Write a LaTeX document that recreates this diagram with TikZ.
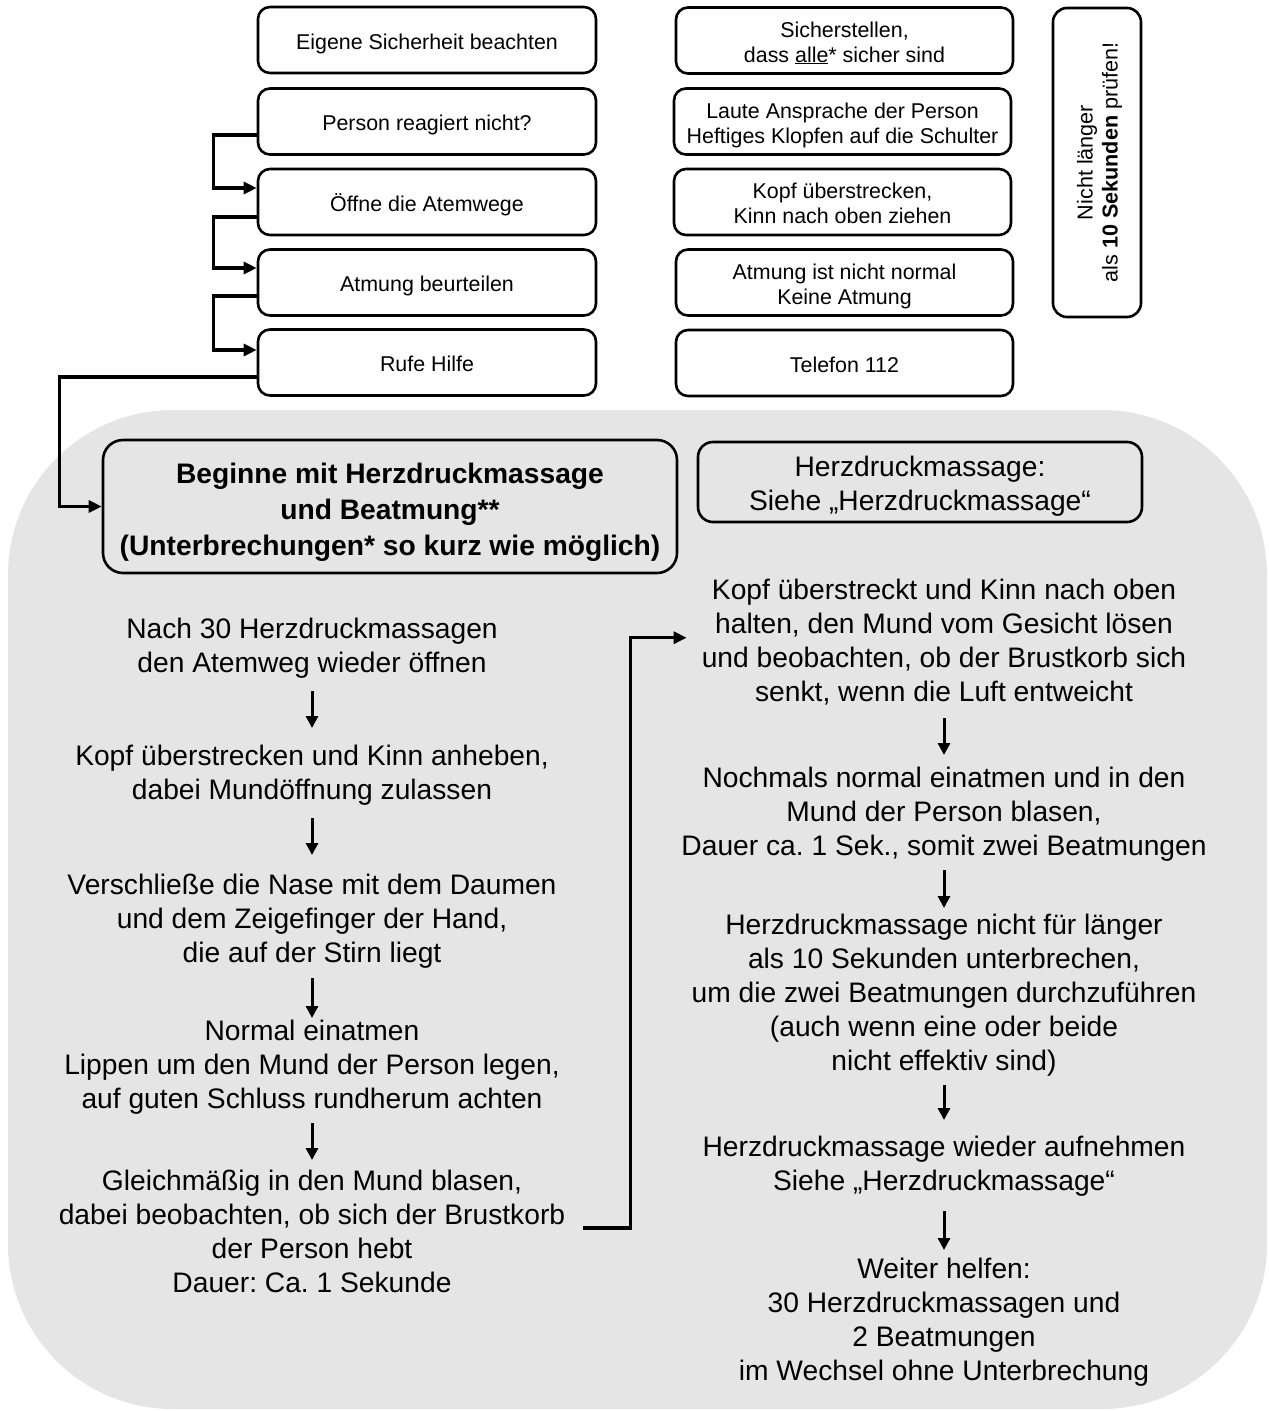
\documentclass[tikz,border=0pt]{standalone}
\usepackage{fontspec}
\setmainfont{Liberation Sans}
\usetikzlibrary{arrows.meta}
\definecolor{bggray}{RGB}{229,229,229}
\frenchspacing
\newcommand\myrule[1]{\rule{0pt}{#1pt}}
\begin{document}
\begin{tikzpicture}[x=1pt,y=-1pt,
  sbox/.style={draw, line width=2.6pt, rounded corners=12pt, fill=white,
    minimum width=338pt, minimum height=66pt, inner sep=0pt, align=center,
    font=\fontsize{21.4}{25}\selectfont,
    execute at end node={\rule[-5pt]{0pt}{5pt}}},
  rbox/.style={sbox, minimum width=337pt},
  bigtext/.style={align=center, inner sep=0pt, anchor=north,
    font=\fontsize{28.2}{34}\selectfont},
  conn/.style={line width=3.2pt, -{Triangle[length=13pt,width=12pt]}},
  darr/.style={line width=3pt, -{Triangle[length=12pt,width=12pt]}}
]
\useasboundingbox (0,0) rectangle (1269,1411);
\fill[bggray, rounded corners=165pt] (8,410) rectangle (1267,1409);

% top left column
\node[sbox] (p1) at (427,40)    {\myrule{23}Eigene Sicherheit beachten};
\node[sbox] (p2) at (427,121.5) {\myrule{23}Person reagiert nicht?};
\node[sbox] (p3) at (427,202)   {\myrule{23}Öffne die Atemwege};
\node[sbox] (p4) at (427,282.5) {\myrule{23}Atmung beurteilen};
\node[sbox] (p5) at (427,362.5) {\myrule{23}Rufe Hilfe};

% top right column
\node[rbox] (q1) at (844.5,40.5)  {\myrule{23}Sicherstellen,\\dass \underline{alle}* sicher sind};
\node[rbox] (q2) at (842.5,121.5) {\myrule{23}Laute Ansprache der Person\\Heftiges Klopfen auf die Schulter};
\node[rbox] (q3) at (842.5,202)   {\myrule{23}Kopf überstrecken,\\Kinn nach oben ziehen};
\node[rbox] (q4) at (844.5,282.5) {\myrule{23}Atmung ist nicht normal\\Keine Atmung};
\node[rbox] (q5) at (844.5,363)   {\myrule{23}Telefon 112};

\node[draw, line width=2.6pt, rounded corners=14pt, rotate=90,
  minimum width=309pt, minimum height=88pt, inner sep=0pt, align=center,
  font=\fontsize{21.6}{25}\selectfont,
  execute at end node={\rule[-5pt]{0pt}{5pt}}] (side) at (1097,162.5)
  {\myrule{21}Nicht länger\\als \textbf{10 Sekunden} prüfen!};

% lower boxes
\node[draw, line width=2.6pt, rounded corners=20pt,
  minimum width=574pt, minimum height=133pt, inner sep=0pt, align=center,
  font=\bfseries\fontsize{28.2}{36}\selectfont,
  execute at end node={\rule[-7pt]{0pt}{7pt}}] (bold) at (390,506.5)
  {\myrule{33}Beginne mit Herzdruckmassage\\und Beatmung**\\(Unterbrechungen* so kurz wie möglich)};
\node[draw, line width=2.6pt, rounded corners=15pt,
  minimum width=444pt, minimum height=80pt, inner sep=0pt, align=center,
  font=\fontsize{28.2}{34}\selectfont,
  execute at end node={\rule[-7pt]{0pt}{7pt}}] (herz) at (920,482)
  {\myrule{30}Herzdruckmassage:\\Siehe „Herzdruckmassage“};

% left column text
\node[bigtext] (L1) at (312,617.5) {Nach 30 Herzdruckmassagen\\den Atemweg wieder öffnen};
\node[bigtext] (L2) at (312,744.5) {Kopf überstrecken und Kinn anheben,\\dabei Mundöffnung zulassen};
\node[bigtext] (L3) at (312,873.5) {Verschließe die Nase mit dem Daumen\\und dem Zeigefinger der Hand,\\die auf der Stirn liegt};
\node[bigtext] (L4) at (312,1019.5) {Normal einatmen\\Lippen um den Mund der Person legen,\\auf guten Schluss rundherum achten};
\node[bigtext] (L5) at (312,1169.5) {Gleichmäßig in den Mund blasen,\\dabei beobachten, ob sich der Brustkorb\\der Person hebt\\Dauer: Ca. 1 Sekunde};

% right column text
\node[bigtext] (R1) at (944,578.5) {Kopf überstreckt und Kinn nach oben\\halten, den Mund vom Gesicht lösen\\und beobachten, ob der Brustkorb sich\\senkt, wenn die Luft entweicht};
\node[bigtext] (R2) at (944,766.5) {Nochmals normal einatmen und in den\\Mund der Person blasen,\\Dauer ca. 1 Sek., somit zwei Beatmungen};
\node[bigtext] (R3) at (944,913.5) {Herzdruckmassage nicht für länger\\als 10 Sekunden unterbrechen,\\um die zwei Beatmungen durchzuführen\\(auch wenn eine oder beide\\nicht effektiv sind)};
\node[bigtext] (R4) at (944,1135.5) {Herzdruckmassage wieder aufnehmen\\Siehe „Herzdruckmassage“};
\node[bigtext] (R5) at (944,1257.5) {Weiter helfen:\\30 Herzdruckmassagen und\\2 Beatmungen\\im Wechsel ohne Unterbrechung};

% top connectors
\draw[conn] ([yshift=-13.5pt]p2.west) -- ++(-43,0) |- ([yshift=14pt]p3.west);
\draw[conn] ([yshift=-15pt]p3.west) -- ++(-43,0) |- ([yshift=14.5pt]p4.west);
\draw[conn] ([yshift=-13.5pt]p4.west) -- ++(-43,0) |- ([yshift=12.5pt]p5.west);
\draw[conn] ([yshift=-14.5pt]p5.west) -- ++(-197,0) |- (bold.west);

% column arrows
\draw[darr, shorten <=13pt, shorten >=16.5pt] (L1.south) -- (L2.north);
\draw[darr, shorten <=13pt, shorten >=18.5pt] (L2.south) -- (L3.north);
\draw[darr, shorten <=10pt, shorten >=1.5pt] (L3.south) -- (L4.north);
\draw[darr, shorten <=9pt, shorten >=9.5pt] (L4.south) -- (L5.north);

\draw[darr, shorten <=13pt, shorten >=11.5pt] (R1.south) -- (R2.north);
\draw[darr, shorten <=9pt, shorten >=5.5pt] (R2.south) -- (R3.north);
\draw[darr, shorten <=9pt, shorten >=15.5pt] (R3.south) -- (R4.north);
\draw[darr, shorten <=15pt, shorten >=7.5pt] (R4.south) -- (R5.north);

\draw[conn] ([xshift=18pt,yshift=3pt]L5.east) -- ++(47,0) |- ([xshift=-15pt,yshift=4pt]R1.west);
\end{tikzpicture}
\end{document}
